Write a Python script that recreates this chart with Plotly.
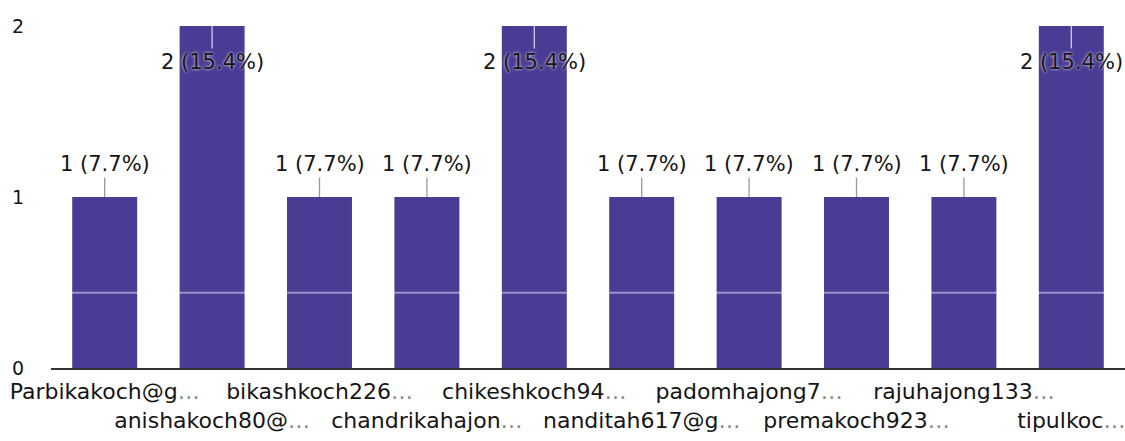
import plotly.graph_objects as go

# ---- data ----
categories = ["Parbikakoch@g", "anishakoch80@", "bikashkoch226", "chandrikahajon",
              "chikeshkoch94", "nanditah617@g", "padomhajong7", "premakoch923",
              "rajuhajong133", "tipulkoc"]
counts = [1, 2, 1, 1, 2, 1, 1, 1, 1, 2]
y_tick_vals = [0, 1, 2]
y_tick_text = ["0", "1", "2"]

total = sum(counts)
value_labels = [f"{c} ({c / total * 100:.1f}%)" for c in counts]

# ---- styles ----
BAR_COLOR = "#4a3b95"
FONT = "DejaVu Sans"
TEXT_COLOR = "#151515"
ELLIPSIS = '<span style="color:#8a8a8a">…</span>'
FOLD_LINE_Y = 0.44  # faint light crease visible across the bars in the photo

tick_text = []
for i, name in enumerate(categories):
    label = name + ELLIPSIS
    tick_text.append(label if i % 2 == 0 else "<br>" + label)

fig = go.Figure(
    go.Bar(
        x=categories,
        y=counts,
        marker=dict(color=BAR_COLOR, line=dict(width=0)),
        hoverinfo="skip",
    )
)

max_c = max(counts)
for cat, c, lab in zip(categories, counts, value_labels):
    inside = c == max_c
    fig.add_annotation(
        x=cat, y=c, xref="x", yref="y",
        text=lab,
        showarrow=True, arrowhead=0, arrowwidth=1.3,
        arrowcolor="rgba(225,218,245,0.9)" if inside else "#9a9a9a",
        ax=0, ay=36 if inside else -33,
        font=dict(family=FONT, size=21, color=TEXT_COLOR,
                  shadow="0px 0px 3px white"),
    )

fig.add_shape(
    type="line", xref="paper", yref="y",
    x0=0, x1=1, y0=FOLD_LINE_Y, y1=FOLD_LINE_Y,
    line=dict(color="rgba(255,255,255,0.45)", width=2),
    layer="above",
)

fig.update_layout(
    width=1125, height=441,
    margin=dict(l=51, r=0, t=26, b=73),
    paper_bgcolor="white", plot_bgcolor="white",
    bargap=0.395,
    showlegend=False,
    font=dict(family=FONT, color=TEXT_COLOR),
)
fig.update_xaxes(
    type="category",
    tickvals=categories, ticktext=tick_text,
    tickfont=dict(family=FONT, size=22, color=TEXT_COLOR),
    showline=True, linecolor="#333333", linewidth=2,
    showgrid=False, ticks="", tickangle=0,
    ticklabelstandoff=3,
    automargin=False,
)
fig.update_yaxes(
    range=[0, 2],
    tickvals=y_tick_vals, ticktext=y_tick_text,
    tickfont=dict(family=FONT, size=19, color=TEXT_COLOR),
    showgrid=False, zeroline=False, showline=False, ticks="",
    ticklabelstandoff=26,
    automargin=False,
)

# remove the default page margin so the 1125x441 figure fills the window exactly
fig.write_html(
    "out.html",
    config={"displayModeBar": False},
    post_script="document.body.style.margin='0';document.body.style.overflow='hidden';",
)
